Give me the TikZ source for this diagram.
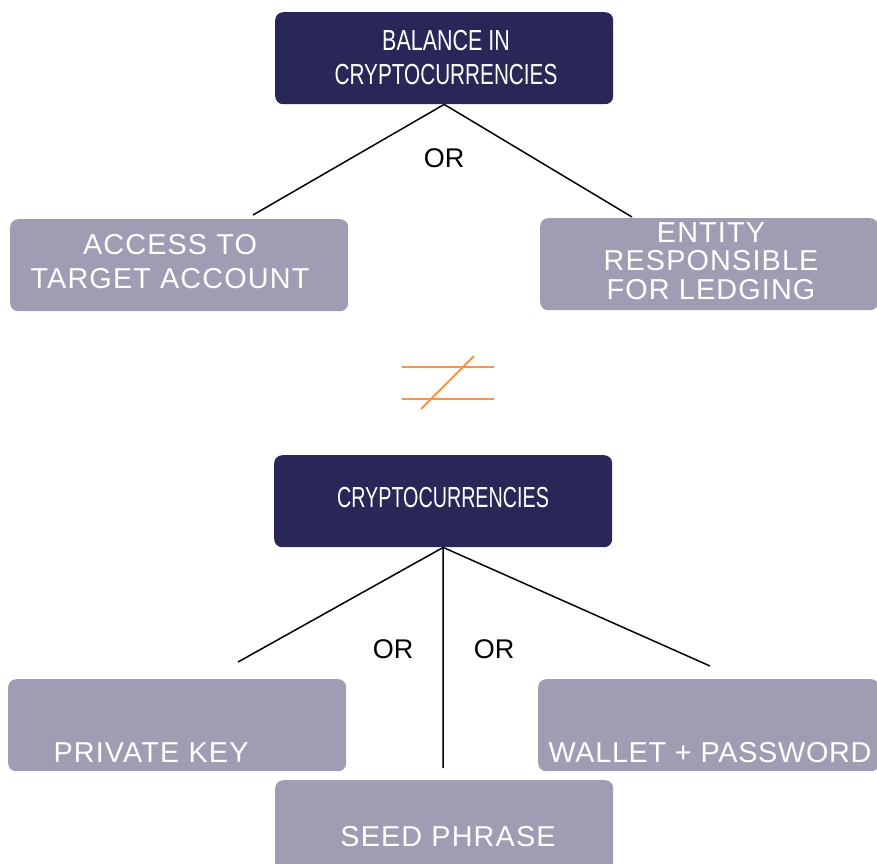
\documentclass[tikz,border=0pt]{standalone}
\usepackage{fontspec}
\usepackage{graphicx}
\setmainfont{Liberation Sans}
\newfontfamily\boxfont[LetterSpace=4]{Liberation Sans}
\newfontfamily\tightboxfont[LetterSpace=2.5]{Liberation Sans}
\definecolor{navy}{HTML}{292757}
\definecolor{slate}{HTML}{9E9DB3}
\definecolor{accent}{HTML}{F7924F}
\tikzset{
  box/.style={rounded corners=8pt, minimum width=338pt, minimum height=92pt,
    inner sep=0pt, anchor=north west},
  navybox/.style={box, fill=navy},
  graybox/.style={box, fill=slate},
  titletext/.style={text=white, font=\fontsize{29}{34}\selectfont, align=center, inner sep=0pt},
  boxtext/.style={text=white, font=\boxfont\fontsize{28.8}{34}\selectfont, align=center, inner sep=0pt},
  ortext/.style={font=\fontsize{27}{30}\selectfont, inner sep=0pt},
  link/.style={draw=black, line width=1.5pt},
  neq/.style={draw=accent, line width=2pt}
}
\begin{document}
\begin{tikzpicture}[x=1pt, y=-1pt]
  \useasboundingbox (0,0) rectangle (877,863);
  \clip (0,0) rectangle (877,863);

  % upper tree
  \node[navybox] (balance) at (275,12) {};
  \node[titletext] (balancetext) at (446,58)
    {\scalebox{0.74}[1]{BALANCE IN}\\\scalebox{0.715}[1]{CRYPTOCURRENCIES}};
  \node[graybox] (access) at (10,219) {};
  \node[boxtext] (accesstext) at (170,262) {ACCESS TO\\TARGET ACCOUNT};
  \node[graybox] (entity) at (540,218) {};
  \node[boxtext, font=\boxfont\fontsize{28.8}{28.5}\selectfont] (entitytext) at (711,261)
    {ENTITY\\RESPONSIBLE\\FOR LEDGING};
  \coordinate (accesstop) at (253,215);
  \coordinate (entitytop) at (632,217);
  \draw[link] (balance.south) -- (accesstop);
  \draw[link] (balance.south) -- (entitytop);
  \node[ortext] (or1) at (444,158) {OR};

  % not-equal sign
  \draw[neq] (402,367) -- (494,367);
  \draw[neq] (402,399) -- (494,399);
  \draw[neq] (421,409) -- (474,356);

  % lower tree
  \node[navybox] (crypto) at (274,455) {};
  \node[titletext] (cryptotext) at (443,498) {\scalebox{0.68}[1]{CRYPTOCURRENCIES}};
  \node[graybox] (private) at (8,679) {};
  \node[boxtext] (privatetext) at (151,753) {PRIVATE KEY};
  \node[graybox, minimum width=341pt] (wallet) at (538,679) {};
  \node[boxtext, font=\tightboxfont\fontsize{28.8}{34}\selectfont] (wallettext) at (710,753)
    {WALLET + PASSWORD};
  \node[graybox] (seed) at (275,780) {};
  \node[boxtext] (seedtext) at (448,837) {SEED PHRASE};
  \coordinate (privatetop) at (238,662);
  \coordinate (seedtop) at (443,768);
  \coordinate (wallettop) at (710,666);
  \draw[link] (crypto.south) -- (privatetop);
  \draw[link] (crypto.south) -- (seedtop);
  \draw[link] (crypto.south) -- (wallettop);
  \node[ortext] (or2) at (393,649) {OR};
  \node[ortext] (or3) at (494,649) {OR};
\end{tikzpicture}
\end{document}
